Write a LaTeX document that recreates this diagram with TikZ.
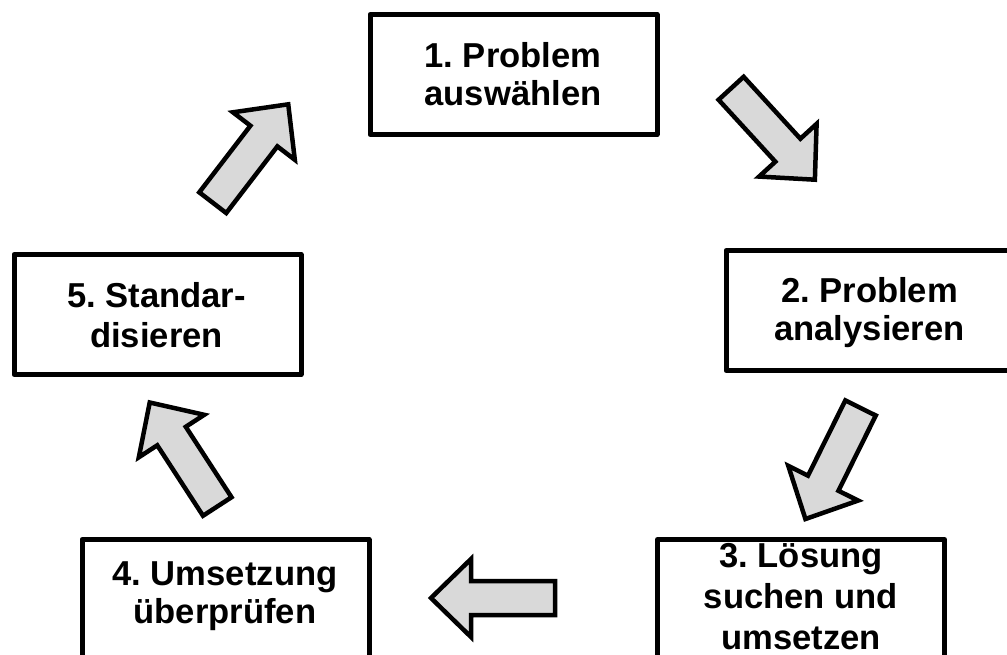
\documentclass[tikz,border=0pt]{standalone}
\usepackage{fontspec}
\setmainfont{Liberation Sans}
\definecolor{arrowfill}{HTML}{D9D9D9}
\tikzset{
  x=1pt, y=1pt,
  stepbox/.style={draw=black, line width=5pt, line join=round, fill=white,
    minimum width=287pt, minimum height=120pt, inner sep=0pt},
  steptext/.style={align=center, inner sep=0pt, text depth=0pt,
    font=\fontsize{34.6}{#1}\bfseries\selectfont\frenchspacing},
  twolines/.style={steptext=38, text height=62.8pt},
  threelines/.style={steptext=41, text height=106.8pt},
  blockarrow/.pic={
    \draw[draw=black, line width=4.5pt, fill=arrowfill, miter limit=6]
      (-62,-17) -- (22,-17) -- (22,-39) -- (62,0) -- (22,39) -- (22,17) -- (-62,17) -- cycle;
  }
}
\begin{document}
\begin{tikzpicture}
\useasboundingbox (0,0) rectangle (1007,-655);
\clip (0,0) rectangle (1007,-655);

% process steps
\node[stepbox] (b1) at (513.5,-74.5) {};
\node[stepbox] (b2) at (869.5,-310.5) {};
\node[stepbox] (b3) at (801,-599.5) {};
\node[stepbox] (b4) at (225.5,-599.5) {};
\node[stepbox] (b5) at (157.5,-314.5) {};

\node[twolines] (t1) at (513,-74) {1. Problem\\auswählen};
\node[twolines] (t2) at (869.5,-309) {2. Problem\\analysieren};
\node[threelines] (t3) at (801,-596.5) {3. Lösung\\suchen und\\umsetzen};
\node[twolines] (t4) at (225,-592.5) {4. Umsetzung\\überprüfen};
\node[steptext=40, text height=64.8pt] (t5) at (156.5,-315) {5. Standar-\\disieren};

% cycle arrows
\pic[rotate=-47.5] at (773,-134) {blockarrow};
\pic[rotate=-116.4] at (833,-463.5) {blockarrow};
\pic[rotate=180] at (493,-598) {blockarrow};
\pic[rotate=123] at (183.5,-454.5) {blockarrow};
\pic[rotate=52.5] at (250.5,-153.5) {blockarrow};
\end{tikzpicture}
\end{document}
